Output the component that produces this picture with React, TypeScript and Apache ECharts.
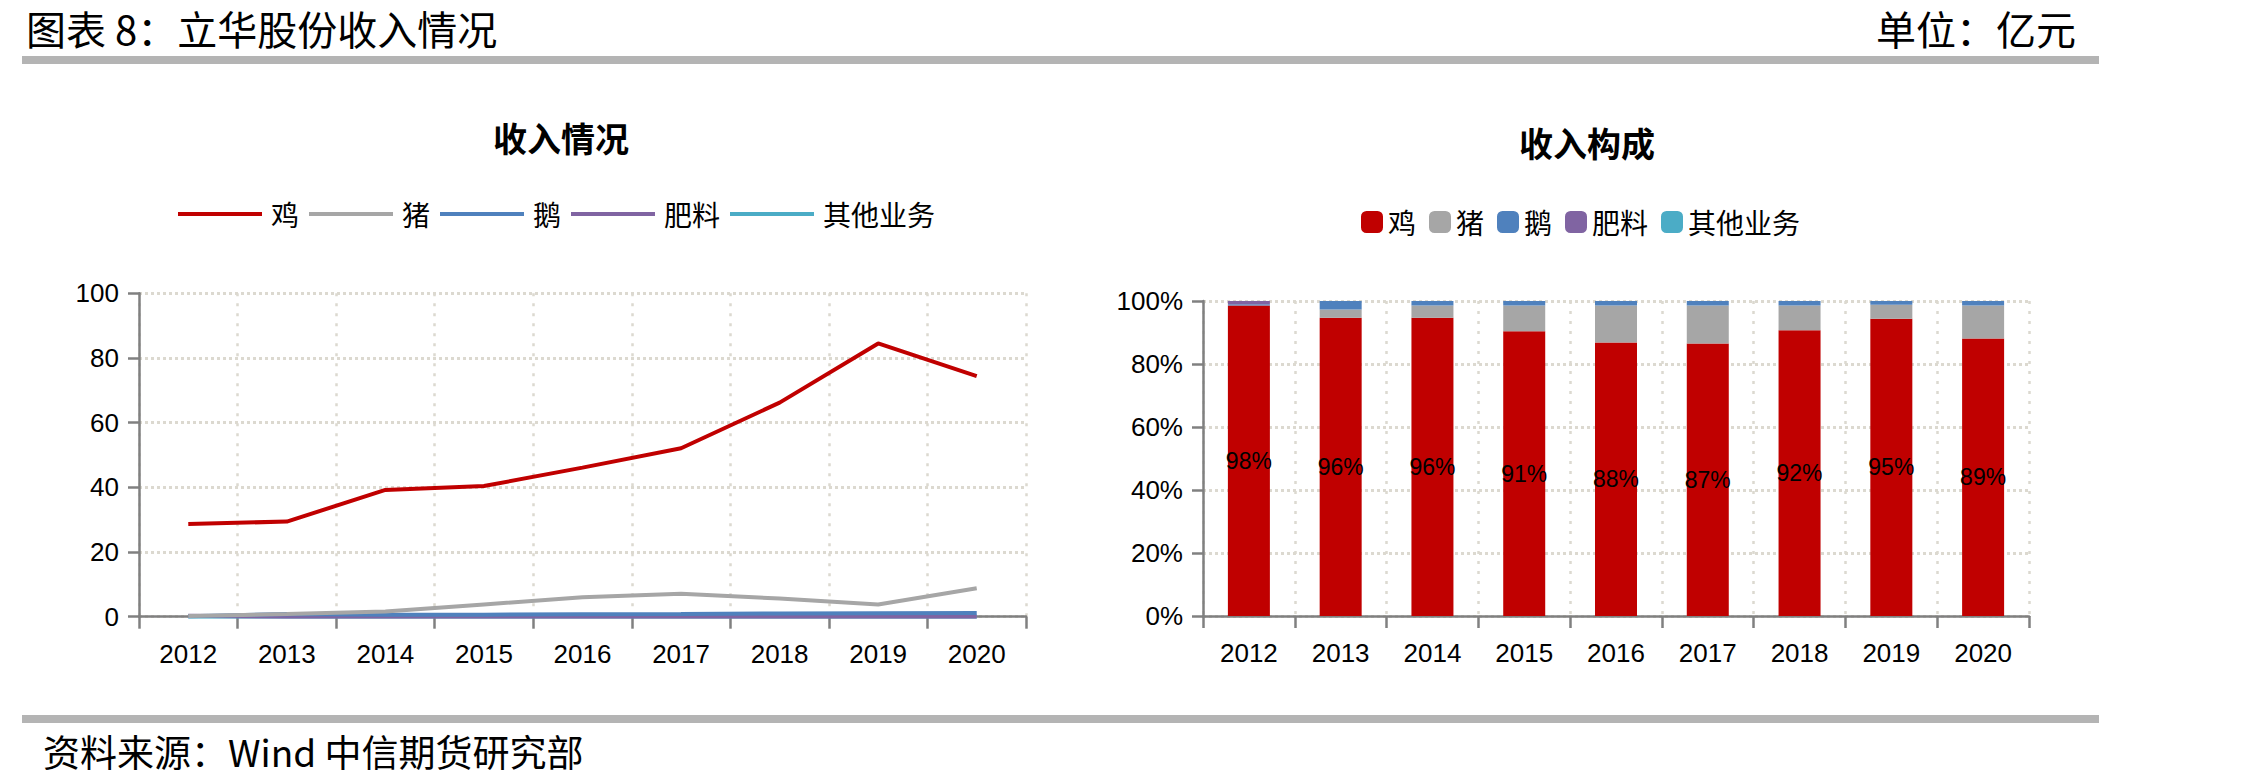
import React, { useEffect, useRef } from "react";
import * as echarts from "echarts";

// ---------- data ----------
const years = ["2012", "2013", "2014", "2015", "2016", "2017", "2018", "2019", "2020"];
const seriesNames = ["鸡", "猪", "鹅", "肥料", "其他业务"];
const seriesColors = ["#c00000", "#a6a6a6", "#4f81bd", "#8064a2", "#4bacc6"];

// 收入情况 (亿元)
const chickenRevenue = [28.7, 29.4, 39.2, 40.4, 46.1, 52.1, 66.2, 84.5, 74.4];
const pigRevenue = [0.2, 0.8, 1.6, 3.8, 6.0, 7.1, 5.6, 3.8, 8.8];
const gooseRevenue = [0.12, 0.8, 0.58, 0.63, 0.74, 0.84, 1.02, 1.1, 1.18];
const fertilizerRevenue = [0.29, 0, 0, 0, 0, 0, 0, 0, 0];
const otherRevenue = [0, 0, 0, 0, 0, 0, 0, 0, 0];

// 收入构成 (%)
const chickenShare = [98.6, 94.7, 94.7, 90.4, 86.8, 86.5, 90.7, 94.4, 88.1];
const pigShare = [0, 2.6, 3.9, 8.2, 11.8, 12.1, 7.9, 4.4, 10.5];
const gooseShare = [0.4, 2.7, 1.4, 1.4, 1.4, 1.4, 1.4, 1.2, 1.4];
const fertilizerShare = [1.0, 0, 0, 0, 0, 0, 0, 0, 0];
const otherShare = [0, 0, 0, 0, 0, 0, 0, 0, 0];
const chickenShareLabels = ["98%", "96%", "96%", "91%", "88%", "87%", "92%", "95%", "89%"];

const revenueTicks = { min: 0, max: 100, interval: 20 };
const shareTicks = { min: 0, max: 100, interval: 20 };

const headerTitle = "图表 8：立华股份收入情况";
const unitText = "单位：亿元";
const sourceText = "资料来源：Wind 中信期货研究部";
const leftTitle = "收入情况";
const rightTitle = "收入构成";

// ---------- styles ----------
const CJK = "'Noto Sans CJK SC', 'Liberation Sans', sans-serif";
const NUM = "'Liberation Sans', Arial, sans-serif";
const axisColor = "#808080";
const gridColor = "#dcd9d0";

function makeXAxis(gridIndex: number) {
  return {
    type: "category",
    gridIndex,
    data: years,
    boundaryGap: true,
    axisLine: { show: true, lineStyle: { color: axisColor, width: 2.5 } },
    axisTick: { show: true, length: 12, lineStyle: { color: axisColor, width: 2.5 } },
    axisLabel: { fontSize: 26, color: "#000", margin: 24, fontFamily: NUM },
    splitLine: { show: true, lineStyle: { color: gridColor, type: [3, 7], width: 2.5 } },
  };
}

function makeYAxis(gridIndex: number, ticks: any, fmt: string) {
  return {
    type: "value",
    gridIndex,
    min: ticks.min,
    max: ticks.max,
    interval: ticks.interval,
    axisLine: { show: true, lineStyle: { color: axisColor, width: 2.5 } },
    axisTick: { show: true, length: 11, lineStyle: { color: axisColor, width: 2.5 } },
    axisLabel: { fontSize: 26, color: "#000", margin: 20, fontFamily: NUM, formatter: fmt },
    splitLine: { show: true, lineStyle: { color: gridColor, type: [3, 3], width: 3 } },
  };
}

export default function App() {
  const ref = useRef<HTMLDivElement>(null);

  useEffect(() => {
    if (!ref.current) return;
    const chart = echarts.init(ref.current, undefined, { renderer: "svg" });

    const revenue = [chickenRevenue, pigRevenue, gooseRevenue, fertilizerRevenue, otherRevenue];
    const shares = [chickenShare, pigShare, gooseShare, fertilizerShare, otherShare];
    const lineZ = [6, 5, 4, 3, 2];

    const lineSeries = seriesNames.map((name, i) => ({
      name,
      type: "line",
      xAxisIndex: 0,
      yAxisIndex: 0,
      data: revenue[i],
      symbol: "none",
      z: lineZ[i],
      lineStyle: { color: seriesColors[i], width: 4 },
      itemStyle: { color: seriesColors[i] },
    }));

    const barSeries = seriesNames.map((name, i) => ({
      name,
      type: "bar",
      xAxisIndex: 1,
      yAxisIndex: 1,
      stack: "share",
      barWidth: 42,
      data: shares[i],
      itemStyle: { color: seriesColors[i] },
      label:
        i === 0
          ? {
              show: true,
              position: "inside",
              color: "#000",
              fontSize: 23,
              fontFamily: NUM,
              formatter: (p: any) => chickenShareLabels[p.dataIndex],
            }
          : { show: false },
    }));

    const option: any = {
      animation: false,
      backgroundColor: "#fff",
      grid: [
        { left: 139, top: 293.3, width: 887, height: 323.4 },
        { left: 1203, top: 301, width: 826, height: 315 },
      ],
      xAxis: [makeXAxis(0), makeXAxis(1)],
      yAxis: [makeYAxis(0, revenueTicks, "{value}"), makeYAxis(1, shareTicks, "{value}%")],
      legend: [
        {
          left: 178,
          top: 200,
          padding: 0,
          icon: "rect",
          itemWidth: 84,
          itemHeight: 4,
          itemGap: 10,
          selectedMode: false,
          itemStyle: { borderWidth: 0 },
          data: seriesNames.map((n, i) => ({ name: n, itemStyle: { color: seriesColors[i], borderWidth: 0 } })),
          textStyle: { fontSize: 28, color: "#000", fontFamily: CJK, lineHeight: 28, padding: [0, 0, 0, 4] },
        },
        {
          left: 1361,
          top: 208,
          padding: 0,
          icon: "roundRect",
          itemWidth: 22,
          itemHeight: 22,
          itemGap: 13,
          selectedMode: false,
          itemStyle: { borderWidth: 0 },
          data: seriesNames.map((n, i) => ({ name: n, itemStyle: { color: seriesColors[i], borderWidth: 0 } })),
          textStyle: { fontSize: 28, color: "#000", fontFamily: CJK, lineHeight: 28 },
        },
      ],
      graphic: [
        {
          type: "text",
          x: 26,
          y: 28,
          style: { text: headerTitle, fontSize: 40, lineHeight: 40, fill: "#000", fontFamily: CJK, textVerticalAlign: "middle" },
        },
        {
          type: "text",
          x: 2076,
          y: 28,
          style: { text: unitText, fontSize: 40, lineHeight: 40, fill: "#000", fontFamily: CJK, textAlign: "right", textVerticalAlign: "middle" },
        },
        { type: "rect", shape: { x: 22, y: 56, width: 2077, height: 8 }, style: { fill: "#b4b4b4" } },
        { type: "rect", shape: { x: 22, y: 715, width: 2077, height: 8 }, style: { fill: "#b4b4b4" } },
        {
          type: "text",
          x: 43,
          y: 751,
          style: { text: sourceText, fontSize: 37, lineHeight: 37, fill: "#000", fontFamily: CJK, textVerticalAlign: "middle" },
        },
        {
          type: "text",
          x: 561,
          y: 137,
          style: { text: leftTitle, fontSize: 34, fontWeight: "bold", fill: "#000", fontFamily: CJK, textAlign: "center", textVerticalAlign: "middle" },
        },
        {
          type: "text",
          x: 1587,
          y: 142,
          style: { text: rightTitle, fontSize: 34, fontWeight: "bold", fill: "#000", fontFamily: CJK, textAlign: "center", textVerticalAlign: "middle" },
        },
      ],
      series: [...lineSeries, ...barSeries],
    };

    chart.setOption(option);
    return () => chart.dispose();
  }, []);

  return (
    <div
      ref={ref}
      style={{ position: "fixed", left: 0, top: 0, width: 2267, height: 782, background: "#fff" }}
    />
  );
}
